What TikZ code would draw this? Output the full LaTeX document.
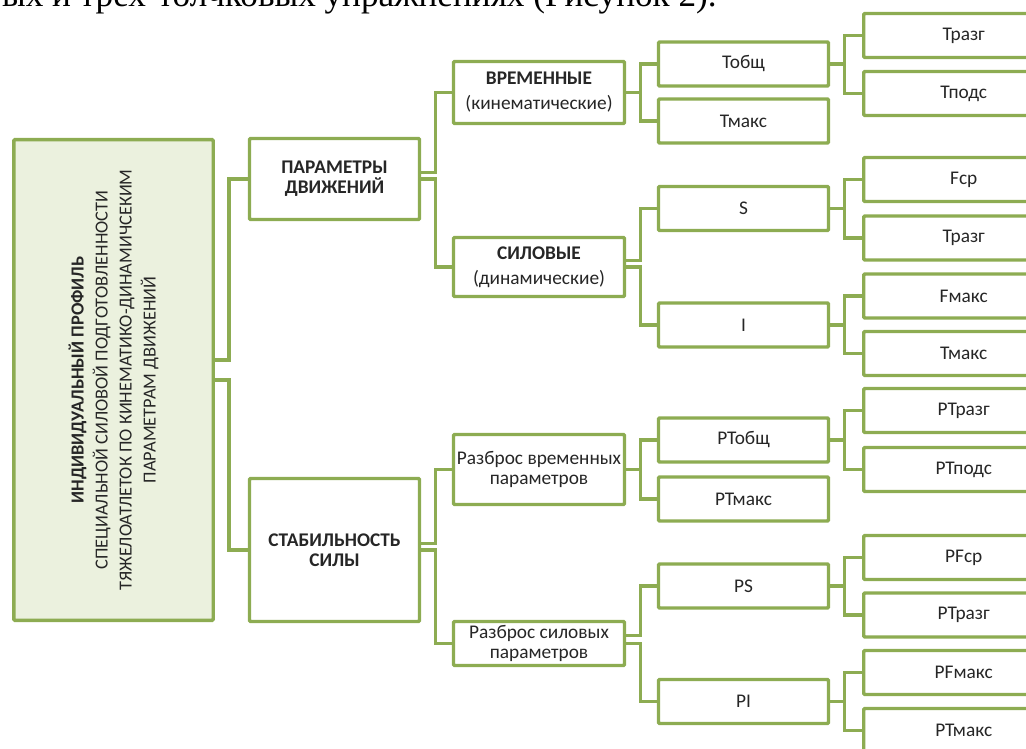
\documentclass[tikz,border=0pt]{standalone}
\usepackage{fontspec}
\setmainfont{Carlito}
\newfontfamily\serifcap{Liberation Serif}
\usetikzlibrary{positioning}
\definecolor{olive}{RGB}{141,172,82}
\definecolor{olivefill}{RGB}{235,241,222}
\definecolor{textgray}{RGB}{38,38,38}
\tikzstyle{every node}=[font=\fontsize{14.5}{14.8}\selectfont, text=textgray]
\tikzstyle{block}=[draw=olive, line width=2.6pt, fill=white, rectangle, rounded corners=0.8pt, inner sep=0pt, align=center]
\tikzstyle{head}=[block, minimum width=127.5pt]
\tikzstyle{group}=[block, minimum width=128.25pt]
\tikzstyle{param}=[block, minimum width=127.5pt, minimum height=33pt]
\tikzstyle{leaf}=[block, minimum width=150pt, minimum height=33pt]
\tikzstyle{link}=[draw=olive, line width=2.6pt]
\newcommand{\branch}[4]{%
  \draw[link] ([yshift=#4]#1.east) -- ++(14,0) |- (#2.west);
  \draw[link] (#1.east) -- ++(14,0) |- (#3.west);}

\begin{document}
\begin{tikzpicture}[x=0.75pt, y=-0.75pt]
  \useasboundingbox (0,0) rectangle (1026,749);
  \clip (0,0) rectangle (1026,749);
  \node[anchor=base east, inner sep=0pt, text=black, font=\serifcap\fontsize{26.4}{30}\selectfont] (caption) at (717,7) {ых и трех-толчковых упражнениях (Рисунок 2).};

  \node[block, fill=olivefill, minimum width=149.6pt, minimum height=360.4pt] (profile) at (113.5,380) {};
  \node[rotate=90, align=center, font=\fontsize{13.8}{18}\selectfont] (profiletext) at (profile.center)
    {\textbf{ИНДИВИДУАЛЬНЫЙ ПРОФИЛЬ}\\СПЕЦИАЛЬНОЙ СИЛОВОЙ ПОДГОТОВЛЕННОСТИ\\ТЯЖЕЛОАТЛЕТОК ПО КИНЕМАТИКО-ДИНАМИЧСЕКИМ\\ПАРАМЕТРАМ ДВИЖЕНИЙ};

  \node[head, minimum height=60.75pt] (motion) at (334.5,179) {\textbf{ПАРАМЕТРЫ}\\\textbf{ДВИЖЕНИЙ}};
  \node[head, minimum height=107.25pt] (stability) at (334.5,550) {\textbf{СТАБИЛЬНОСТЬ}\\\textbf{СИЛЫ}};

  \node[group, minimum height=46.5pt] (time) at (539,92.5) {\textbf{ВРЕМЕННЫЕ}\\[4pt](кинематические)};
  \node[group, minimum height=44.25pt] (force) at (539,267) {\textbf{СИЛОВЫЕ}\\[4pt](динамические)};
  \node[group, minimum height=52.5pt] (timespread) at (539,469.5) {Разброс временных\\параметров};
  \node[group, minimum height=33pt] (forcespread) at (539,643.5) {Разброс силовых\\параметров};

  \node[param] (ttotal) at (743.5,64) {Тобщ};
  \node[param] (tmax) at (743.5,121) {Тмакс};
  \node[param] (s) at (743.5,208.5) {S};
  \node[param] (i) at (743.5,325) {I};
  \node[param] (rttotal) at (743.5,440) {РТобщ};
  \node[param] (rtmax) at (743.5,499) {РТмакс};
  \node[param] (ps) at (743.5,586) {PS};
  \node[param] (pi) at (743.5,701.5) {PI};

  \node[leaf] (tbreak) at (963.75,35.5) {Тразг};
  \node[leaf] (tlift) at (963.75,93.5) {Тподс};
  \node[leaf] (fmean) at (963.75,179.5) {Fср};
  \node[leaf] (tbreaks) at (963.75,238) {Тразг};
  \node[leaf] (fmax) at (963.75,296) {Fмакс};
  \node[leaf] (tmaxi) at (963.75,353.5) {Тмакс};
  \node[leaf] (rtbreak) at (963.75,410.5) {РТразг};
  \node[leaf] (rtlift) at (963.75,469.5) {РТподс};
  \node[leaf] (pfmean) at (963.75,557.5) {РFср};
  \node[leaf] (rtbreaks) at (963.75,615) {РТразг};
  \node[leaf] (pfmax) at (963.75,672.5) {РFмакс};
  \node[leaf] (rtmaxi) at (963.75,730.5) {РТмакс};

  \branch{profile}{motion}{stability}{15pt}
  \branch{motion}{time}{force}{5pt}
  \branch{stability}{timespread}{forcespread}{5pt}
  \branch{time}{ttotal}{tmax}{0pt}
  \branch{force}{s}{i}{5pt}
  \branch{timespread}{rttotal}{rtmax}{0pt}
  \branch{forcespread}{ps}{pi}{6pt}
  \branch{ttotal}{tbreak}{tlift}{0pt}
  \branch{s}{fmean}{tbreaks}{0pt}
  \branch{i}{fmax}{tmaxi}{0pt}
  \branch{rttotal}{rtbreak}{rtlift}{0pt}
  \branch{ps}{pfmean}{rtbreaks}{0pt}
  \branch{pi}{pfmax}{rtmaxi}{0pt}
\end{tikzpicture}
\end{document}
